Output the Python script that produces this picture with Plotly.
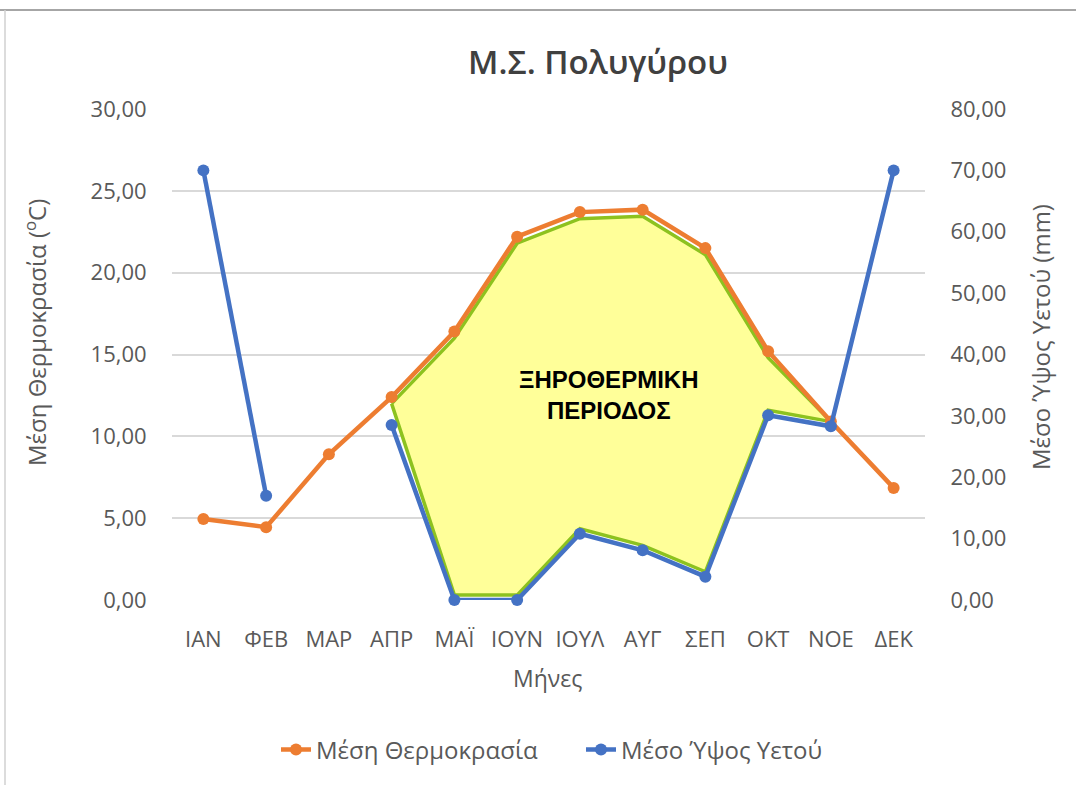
import plotly.graph_objects as go

months = ["ΙΑΝ", "ΦΕΒ", "ΜΑΡ", "ΑΠΡ", "ΜΑΪ", "ΙΟΥΝ", "ΙΟΥΛ", "ΑΥΓ", "ΣΕΠ", "ΟΚΤ", "ΝΟΕ", "ΔΕΚ"]
temperature = [4.95, 4.45, 8.9, 12.4, 16.4, 22.2, 23.7, 23.85, 21.5, 15.2, 10.9, 6.85]
precipitation = [70.0, 17.0, None, 28.5, 0.0, 0.0, 10.8, 8.1, 3.8, 30.1, 28.3, 70.0]
left_ticks = [0, 5, 10, 15, 20, 25, 30]
right_ticks = [0, 10, 20, 30, 40, 50, 60, 70, 80]
dry_first, dry_last = 3, 10  # ΑΠΡ .. ΝΟΕ

ORANGE = "#ED7D31"
BLUE = "#4472C4"
GREY = "#595959"
FONT = "'Open Sans', 'Noto Sans', sans-serif"

xs = list(range(len(months)))
ratio = left_ticks[-1] / right_ticks[-1]

# dry period polygon (in left-axis units): under temperature curve, above rainfall curve
poly_x, poly_y = [], []
for i in range(dry_first, dry_last):
    poly_x.append(xs[i]); poly_y.append(temperature[i] - 0.4)
poly_x.append(xs[dry_last]); poly_y.append(temperature[dry_last])
for i in range(dry_last - 1, dry_first, -1):
    poly_x.append(xs[i]); poly_y.append(precipitation[i] * ratio + 0.3)
poly_x.append(xs[dry_first]); poly_y.append(temperature[dry_first] - 0.4)

fig = go.Figure()
fig.add_trace(go.Scatter(
    x=poly_x, y=poly_y, mode="lines", fill="toself",
    fillcolor="#FFFF99", line=dict(color="#8DC21F", width=3.5),
    showlegend=False, hoverinfo="skip", yaxis="y"))
fig.add_trace(go.Scatter(
    x=xs, y=temperature, name="Μέση Θερμοκρασία", mode="lines+markers",
    line=dict(color=ORANGE, width=4.5), marker=dict(size=12, color=ORANGE),
    cliponaxis=False, yaxis="y"))
fig.add_trace(go.Scatter(
    x=xs, y=precipitation, name="Μέσο Ύψος Υετού", mode="lines+markers",
    line=dict(color=BLUE, width=4.5), marker=dict(size=12, color=BLUE),
    connectgaps=False, cliponaxis=False, yaxis="y2"))

W, H = 1076, 785
L, R, T, B = 172, 925, 109, 600
def px(x):
    return (x - L) / (R - L)
def py(y):
    return (B - y) / (B - T)

fig.update_layout(
    width=W, height=H,
    margin=dict(l=L, r=W - R, t=T, b=H - B, autoexpand=False),
    paper_bgcolor="white", plot_bgcolor="white",
    separators=",.",
    font=dict(family=FONT, color=GREY, size=22),
    title=dict(text="Μ.Σ. Πολυγύρου", x=598 / W, xanchor="center",
               y=1 - 62 / H, yanchor="middle",
               font=dict(family=FONT, size=33, color="#404040", weight=600)),
    xaxis=dict(range=[-0.5, 11.5], tickmode="array", tickvals=xs, ticktext=months,
               showgrid=False, zeroline=False, showline=False,
               ticks="outside", ticklen=20, tickcolor="rgba(0,0,0,0)",
               tickfont=dict(size=22, color=GREY)),
    yaxis=dict(range=[left_ticks[0], left_ticks[-1]], tickmode="array", tickvals=left_ticks,
               tickformat=".2f", showgrid=True, gridcolor="#D9D9D9", gridwidth=1.5,
               zeroline=False, showline=False,
               ticks="outside", ticklen=20, tickcolor="rgba(0,0,0,0)",
               tickfont=dict(size=22, color=GREY)),
    yaxis2=dict(range=[right_ticks[0], right_ticks[-1]], tickmode="array", tickvals=right_ticks,
                tickformat=".2f", overlaying="y", side="right", showgrid=False,
                zeroline=False, showline=False,
                ticks="outside", ticklen=20, tickcolor="rgba(0,0,0,0)",
                tickfont=dict(size=22, color=GREY)),
    legend=dict(orientation="h", x=px(276), xanchor="left", y=py(750), yanchor="middle",
                entrywidth=260, entrywidthmode="pixels",
                font=dict(size=24, color=GREY), bgcolor="rgba(0,0,0,0)"),
    showlegend=True,
    annotations=[
        dict(text="<b>ΞΗΡΟΘΕΡΜΙΚΗ<br>ΠΕΡΙΟΔΟΣ</b>", x=6.45, y=12.55, xref="x", yref="y",
             xanchor="center", yanchor="middle",
             showarrow=False, font=dict(family="'Liberation Sans', Arial, sans-serif",
                                        size=24, color="black")),
        dict(text="Μέση Θερμοκρασία (<sup>ο</sup>C)", x=px(35), y=py(333), xref="paper", yref="paper",
             xanchor="center", yanchor="middle",
             textangle=-90, showarrow=False, font=dict(size=24, color=GREY)),
        dict(text="Μέσο Ύψος Υετού (mm)", x=px(1040), y=py(337), xref="paper", yref="paper",
             xanchor="center", yanchor="middle",
             textangle=-90, showarrow=False, font=dict(size=24, color=GREY)),
        dict(text="Μήνες", x=px(547), y=py(678), xref="paper", yref="paper",
             xanchor="center", yanchor="middle",
             showarrow=False, font=dict(size=23, color=GREY)),
    ],
    shapes=[
        dict(type="line", xref="paper", yref="paper", x0=px(0), x1=px(W), y0=py(10), y1=py(10),
             line=dict(color="#A6A6A6", width=2)),
        dict(type="line", xref="paper", yref="paper", x0=px(5), x1=px(5), y0=py(10), y1=py(H),
             line=dict(color="#D0D0D0", width=1.5)),
    ],
)

fig.write_html("out.html", config={"displayModeBar": False},
               post_script="document.body.style.margin='0';")
